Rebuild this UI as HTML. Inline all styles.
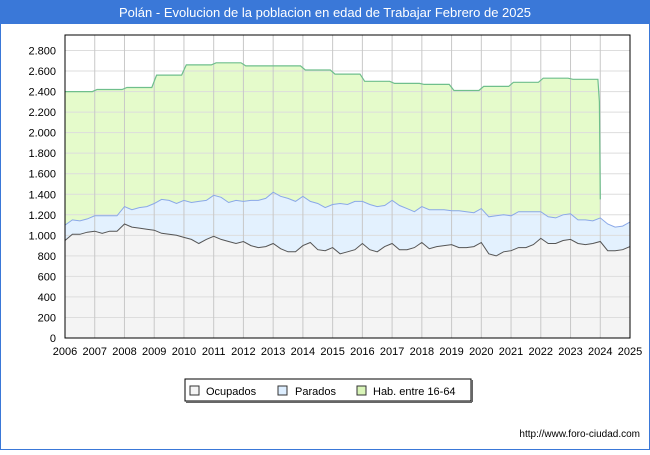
<!DOCTYPE html>
<html><head><meta charset="utf-8"><style>
body{margin:0;width:650px;height:450px;overflow:hidden;background:#fff;font-family:"Liberation Sans","DejaVu Sans",sans-serif}
</style></head><body>
<svg width="650" height="450" xmlns="http://www.w3.org/2000/svg">
<rect x="0.5" y="0.5" width="649" height="449" fill="#fff" stroke="#3a78d8"/>
<rect x="0" y="0" width="650" height="24" fill="#3a78d8"/>
<text x="325" y="17" text-anchor="middle" fill="#fff" font-size="13">Polán - Evolucion de la poblacion en edad de Trabajar Febrero de 2025</text>
<g id="plot"></g>
<g>
<rect x="185" y="379" width="286" height="22" fill="#fff" stroke="#000"/>
<line x1="186" y1="402" x2="472" y2="402" stroke="#666" stroke-width="2"/><line x1="472" y1="380" x2="472" y2="402" stroke="#666" stroke-width="2"/>
<rect x="190" y="386" width="9" height="9" fill="#f4f4f4" stroke="#333"/>
<text x="206" y="395" font-size="11">Ocupados</text>
<rect x="278" y="386" width="9" height="9" fill="#ddeeff" stroke="#333"/>
<text x="295" y="395" font-size="11">Parados</text>
<rect x="357" y="386" width="9" height="9" fill="#d9f5b8" stroke="#333"/>
<text x="373" y="395" font-size="11">Hab. entre 16-64</text>
</g>
<text x="640" y="437" text-anchor="end" font-size="10">http://www.foro-ciudad.com</text>
</svg>
<script>
const years=[2006,2007,2008,2009,2010,2011,2012,2013,2014,2015,2016,2017,2018,2019,2020,2021,2022,2023,2024,2025];
const yTicks=[0,200,400,600,800,1000,1200,1400,1600,1800,2000,2200,2400,2600,2800];
const habYearly=[2400,2420,2440,2560,2660,2680,2650,2650,2610,2570,2500,2480,2470,2410,2450,2490,2530,2520];
const habEnd=1350;
const ocupados=[950,1010,1010,1030,1040,1020,1040,1040,1110,1080,1070,1060,1050,1020,1010,1000,980,960,920,960,990,960,940,920,940,900,880,890,920,870,840,840,900,930,860,850,880,820,840,860,920,860,840,890,920,860,860,880,930,870,890,900,910,880,880,890,930,820,800,840,850,880,880,910,970,920,920,950,960,920,910,920,940,850,850,860,890];
const parados=[150,140,130,130,150,170,150,150,170,170,200,220,260,330,330,310,360,360,410,380,400,410,380,420,390,440,460,470,500,510,520,490,480,400,450,420,420,490,460,470,410,440,440,400,420,430,400,350,350,380,360,350,330,360,350,330,330,360,390,360,340,350,350,320,260,260,250,250,250,230,240,220,230,260,230,230,240];
const X0=65,X1=630,Y0=338,Y1=35;
const xs=t=>X0+(t-2006)/(2025-2006)*(X1-X0);
const ys=v=>Y0-v/2800*(Y0-50.5);
const g=document.getElementById('plot');const NS='http://www.w3.org/2000/svg';
function mk(tag,attrs,name){const e=document.createElementNS(NS,tag);for(const k in attrs)e.setAttribute(k,attrs[k]);


g.appendChild(e);return e;}
mk('rect',{x:X0,y:Y1,width:X1-X0,height:Y0-Y1,fill:'#fff'},'plot-background');
let hp=[];habYearly.forEach((h,i)=>{const y0=2006+i;hp.push([xs(y0+(i?0.08:0)),ys(h)]);hp.push([xs(y0+0.92),ys(h)]);});
hp.push([xs(2023.97),ys(2300)]);hp.push([xs(2024),ys(habEnd)]);
const hs=hp.map(p=>p[0].toFixed(1)+','+p[1].toFixed(1)).join(' L');
mk('path',{d:'M'+hs+' L'+xs(2024)+','+Y0+' L'+X0+','+Y0+'Z',fill:'#e5fbcb'},'hab-area');
const activos=ocupados.map((o,i)=>o+parados[i]);
const pts=a=>a.map((v,i)=>xs(2006+i/4).toFixed(1)+','+ys(v).toFixed(1)).join(' L');
mk('path',{d:'M'+pts(activos)+' L'+X1+','+Y0+' L'+X0+','+Y0+'Z',fill:'#e3f1fe'},'parados-area');
mk('path',{d:'M'+pts(ocupados)+' L'+X1+','+Y0+' L'+X0+','+Y0+'Z',fill:'#f4f4f4'},'ocupados-area');
yTicks.forEach(v=>{if(v>0)mk('line',{x1:X0,x2:X1,y1:ys(v),y2:ys(v),stroke:'#ddd','stroke-width':1},'y-grid-'+v);
const t=mk('text',{x:56,y:ys(v)+4,'text-anchor':'end','font-size':11},'y-tick-'+v);t.textContent=v.toLocaleString('de-DE');});
years.forEach(y=>{if(y>2006&&y<2025)mk('line',{x1:xs(y),x2:xs(y),y1:Y1,y2:Y0,stroke:'#c8c8c8','stroke-width':1},'x-grid-'+y);
const t=mk('text',{x:xs(y),y:355,'text-anchor':'middle','font-size':11},'x-tick-'+y);t.textContent=y;});
mk('path',{d:'M'+hs,fill:'none',stroke:'#6fbf8c','stroke-width':1.2},'hab-line');
mk('path',{d:'M'+pts(activos),fill:'none',stroke:'#8aa8e8','stroke-width':1},'parados-line');
mk('path',{d:'M'+pts(ocupados),fill:'none',stroke:'#555','stroke-width':1},'ocupados-line');
mk('rect',{x:X0,y:Y1,width:X1-X0,height:Y0-Y1,fill:'none',stroke:'#000','stroke-width':1},'plot-border');
</script>
</body></html>
